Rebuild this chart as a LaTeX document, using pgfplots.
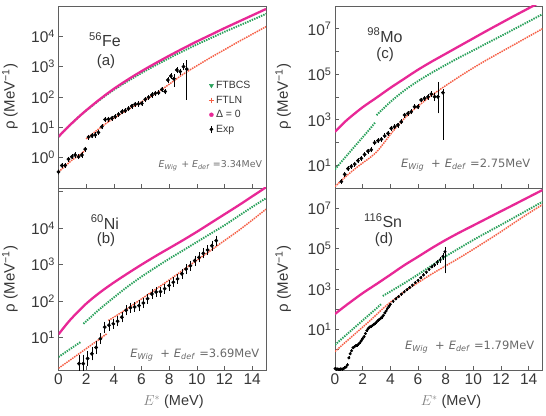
\documentclass[border=0pt]{standalone}
\usepackage{fontspec}
\setmainfont{Liberation Sans}
\newfontfamily\djv{DejaVu Sans}
\usepackage{pgfplots}
\pgfplotsset{compat=1.18}

\definecolor{dzero}{RGB}{232,40,150}
\definecolor{bcs}{RGB}{40,160,90}
\definecolor{fln}{RGB}{245,95,70}
\definecolor{axgray}{RGB}{95,95,95}
\definecolor{txt}{RGB}{55,55,55}
\definecolor{annogray}{RGB}{105,105,105}

\tikzset{
  nuclname/.style={font=\fontsize{16}{18}\selectfont, text=txt},
  paneltag/.style={font=\fontsize{15}{18}\selectfont, text=txt},
  annotext/.style={anchor=base west, text=annogray, inner sep=0pt},
}

\pgfplotsset{
  rhopanel/.style={scale only axis, width=207.5pt, height=182pt,
    xmin=0, xmax=15, xtick={0,2,...,14},
    tick align=inside, xtick pos=bottom, ytick pos=left,
    yminorticks=false,
    axis line style={axgray, line width=0.7pt},
    tick style={axgray, line width=0.6pt}, major tick length=4pt,
    tick label style={font=\fontsize{15.5}{18}\selectfont, text=txt},
    /pgf/number format/assume math mode=true},
  rholabel/.style={ylabel={ρ (MeV\textsuperscript{−1})},
    ylabel style={font=\fontsize{15}{18}\selectfont, text=txt,
      at={(axis description cs:#1,0.5)}, anchor=center}},
  energylabel/.style={xlabel={{\color{black!50}$E^{*}$} (MeV)},
    xlabel style={font=\fontsize{14.5}{17}\selectfont, text=txt,
      at={(axis description cs:#1,-0.176)}, anchor=center}},
  dzline/.style={dzero, line width=2.3pt, smooth, no markers},
  bcsline/.style={bcs, line width=1.9pt, dash pattern=on 1.4pt off 1.1pt, smooth, no markers},
  flnline/.style={fln, line width=1.5pt, dash pattern=on 1.5pt off 0.9pt, smooth, no markers},
  expmarks/.style={only marks, mark=*, mark size=1.7pt, black,
    error bars/y dir=both, error bars/y explicit relative,
    error bars/error bar style={black, line width=0.5pt},
    error bars/error mark options={black, mark size=1.5pt, line width=0.5pt}},
}

\begin{document}
\begin{tikzpicture}

% ---------------- (a) 56Fe ----------------
\begin{axis}[rhopanel, ymode=log, rholabel=-0.234, at={(58.5pt,227pt)}, anchor=south west,
  ymin=0.1, ymax=1e5, xticklabels={},
  ytick={0.1,1,10,100,1000,10000,100000},
  yticklabels={,10\textsuperscript{0},10\textsuperscript{1},10\textsuperscript{2},10\textsuperscript{3},10\textsuperscript{4},},
  legend style={draw=none, fill=none, at={(axis description cs:0.709,0.61)}, anchor=north west,
    font=\fontsize{10.5}{12.5}\selectfont, text=txt, row sep=1.8pt},
  legend cell align=left]
\addlegendimage{only marks, mark=triangle*, mark size=2.3pt, mark options={rotate=180, fill=bcs, draw=bcs}}
\addlegendentry{FTBCS}
\addlegendimage{only marks, mark=+, mark size=2.6pt, mark options={fln, line width=0.6pt}}
\addlegendentry{FTLN}
\addlegendimage{only marks, mark=*, mark size=2pt, mark options={fill=dzero, draw=dzero}}
\addlegendentry{Δ = 0}
\addlegendimage{legend image code/.code={
  \draw[black, line width=0.5pt] (0.3cm,-0.13cm) -- (0.3cm,0.13cm);
  \fill[black] (0.3cm,0cm) circle (1.7pt);}}
\addlegendentry{Exp}

\addplot[flnline, forget plot] table {
0    0.339
0.5  0.537
1    0.851
1.5  1.20
1.95 1.78
};
\addplot[flnline, forget plot] table {
2.0 4.17
2.5 6.31
3   9.55
3.5 14.1
4   20.0
5   38.0
6   69.2
7   126
8   263
9   562
10  1070
11  2000
12  3630
13  6610
14  11700
15  20900
};
\addplot[bcsline, forget plot] table {
0   4.9
0.5 8.5
1   14.1
1.5 22.9
2   35.5
3   81.3
4   172
5   331
6   617
7   1100
8   1910
9   3240
10  5370
11  8710
12  14100
13  22100
14  34700
15  55000
};
\addplot[dzline, forget plot] table {
0   4.9
0.5 8.5
1   14.1
1.5 22.9
2   36.3
3   85.1
4   186
5   372
6   708
7   1290
8   2290
9   3980
10  6760
11  11200
12  18600
13  30200
14  49000
15  79400
};
\addplot[expmarks, forget plot] table[y error plus=ep, y error minus=em] {
x    y     ep   em
0.00 0.339 0.10 0.10
0.24 0.550 0.08 0.08
0.48 0.550 0.08 0.08
0.72 0.891 0.08 0.08
0.96 1.07  0.08 0.08
1.20 1.23  0.08 0.08
1.45 1.07  0.08 0.08
1.69 1.23  0.08 0.08
1.93 1.91  0.08 0.08
2.17 4.79  0.08 0.08
2.41 5.25  0.08 0.08
2.65 5.62  0.08 0.08
2.89 6.76  0.08 0.08
3.13 10.5  0.08 0.08
3.37 18.2  0.08 0.08
3.61 18.6  0.08 0.08
3.86 20.0  0.08 0.08
4.10 22.4  0.08 0.08
4.34 26.9  0.08 0.08
4.58 32.4  0.08 0.08
4.82 35.5  0.08 0.08
5.06 41.7  0.08 0.08
5.30 50.1  0.08 0.08
5.54 57.5  0.08 0.08
5.78 58.9  0.08 0.08
6.02 61.7  0.08 0.08
6.27 83.2  0.08 0.08
6.51 97.7  0.08 0.08
6.75 117   0.08 0.08
6.99 132   0.08 0.08
7.23 138   0.08 0.08
7.47 178   0.08 0.08
7.71 151   0.10 0.10
7.90 363   0.12 0.12
8.12 490   0.12 0.12
8.34 398   0.26 0.40
8.56 776   0.12 0.12
8.80 692   0.12 0.12
9.04 1000  0.15 0.15
9.27 832   0.74 0.89
};
\node[nuclname] at (rel axis cs:0.224,0.813) {\textsuperscript{56}Fe};
\node[paneltag] at (rel axis cs:0.229,0.692) {(a)};
\node[annotext, font=\djv\fontsize{9.4}{11}\selectfont] at (rel axis cs:0.482,0.11)
  {\textit{E}\textsubscript{\textit{Wig}}\hspace{0.4em}+\hspace{0.3em}\textit{E}\textsubscript{\textit{def}} =3.34MeV};
\end{axis}

% ---------------- (b) 60Ni ----------------
\begin{axis}[rhopanel, ymode=log, rholabel=-0.234, energylabel=0.554, at={(58.5pt,45pt)}, anchor=south west,
  ymin=1.3, ymax=1.26e5,
  ytick={10,100,1000,10000,100000},
  yticklabels={10\textsuperscript{1},10\textsuperscript{2},10\textsuperscript{3},10\textsuperscript{4},}]
\addplot[flnline] table {
0   1.45
1   2.69
2   5.01
3   9.33
3.5 12.9
};
\addplot[flnline] table {
3.6 29.5
4   36.3
5   63.1
6   115
7   209
8   380
9   708
10  1320
11  2450
12  4570
13  8510
14  16600
15  33100
};
\addplot[bcsline] table {
0   2.95
0.5 3.98
1   5.37
1.6 7.59
};
\addplot[bcsline] table {
1.8 24.0
2.5 41.7
3   61.7
4   126
5   251
6   468
7   832
8   1450
9   2450
10  4170
11  7080
12  12000
13  21400
14  38000
15  66100
};
\addplot[dzline] table {
0   12.3
0.5 21.4
1   35.5
2   85.1
3   174
4   324
5   575
6   1000
7   1700
8   2820
9   4680
10  7940
11  13800
12  24000
13  41700
14  74100
15  132000
};
\addplot[expmarks] table[y error plus=ep, y error minus=em] {
x     y     ep   em
1.48  1.95  0.60 0.35
1.79  1.95  0.60 0.35
2.10  2.69  0.45 0.30
2.41  3.63  0.40 0.28
2.72  5.37  0.35 0.25
3.03  9.33  0.30 0.22
3.34  19.5  0.28 0.22
3.65  21.9  0.28 0.22
3.96  24.0  0.26 0.20
4.27  28.2  0.26 0.20
4.58  36.3  0.25 0.20
4.89  56.2  0.25 0.20
5.20  66.1  0.25 0.20
5.51  69.2  0.25 0.20
5.82  75.9  0.25 0.20
6.13  89.1  0.25 0.20
6.44  117   0.25 0.20
6.75  158   0.25 0.20
7.06  178   0.25 0.20
7.37  182   0.25 0.20
7.68  219   0.25 0.20
7.99  269   0.25 0.20
8.30  331   0.25 0.20
8.61  407   0.25 0.20
8.92  562   0.25 0.20
9.23  759   0.25 0.20
9.54  933   0.25 0.20
9.85  1290  0.25 0.20
10.16 1580  0.25 0.20
10.47 2040  0.25 0.20
10.78 2510  0.25 0.20
11.09 3310  0.25 0.20
11.40 4570  0.25 0.20
};
\node[nuclname] at (rel axis cs:0.224,0.813) {\textsuperscript{60}Ni};
\node[paneltag] at (rel axis cs:0.229,0.714) {(b)};
\node[annotext, font=\djv\fontsize{11.5}{13}\selectfont] at (rel axis cs:0.345,0.071)
  {\textit{E}\textsubscript{\textit{Wig}}\hspace{0.6em}+\hspace{0.35em}\textit{E}\textsubscript{\textit{def}} =3.69MeV};
\end{axis}

% ---------------- (c) 98Mo ----------------
\begin{axis}[rhopanel, ymode=log, rholabel=-0.25, at={(335pt,227pt)}, anchor=south west,
  ymin=1, ymax=1e8, xticklabels={},
  ytick={1,10,100,1000,10000,100000,1000000,10000000,100000000},
  yticklabels={,10\textsuperscript{1},,10\textsuperscript{3},,10\textsuperscript{5},,10\textsuperscript{7},}]
\addplot[flnline] table {
0   1.15
0.5 2.24
1   4.17
1.5 7.41
2   12.6
2.5 20.9
3   38.0
3.5 89.1
4   224
4.5 525
5   1120
5.5 2240
6   3980
7   12000
8   31600
9   79400
10  191000
11  437000
12  955000
13  2090000
14  4570000
15  10000000
};
\addplot[bcsline] table {
0   6.61
0.5 15.1
1   33.9
1.5 75.9
2   170
2.5 380
2.9 759
};
\addplot[bcsline] table {
3   1580
4   6030
5   19100
6   50100
7   117000
8   257000
9   550000
10  1120000
11  2340000
12  4790000
13  10000000
14  20900000
15  43700000
};
\addplot[dzline] table {
0   295
0.5 603
1   1150
2   3550
3   9330
4   25100
5   63100
6   158000
7   363000
8   794000
9   1740000
10  3800000
11  8320000
12  17800000
13  38000000
14  79400000
15  166000000
};
\addplot[expmarks] table[y error plus=ep, y error minus=em] {
x    y     ep   em
0.46 1.91  0.10 0.10
0.70 3.98  0.10 0.10
0.94 7.08  0.10 0.10
1.18 8.91  0.10 0.10
1.42 11.2  0.10 0.10
1.66 15.8  0.10 0.10
1.90 20.0  0.10 0.10
2.14 29.5  0.10 0.10
2.38 41.7  0.10 0.10
2.62 47.9  0.10 0.10
2.87 97.7  0.10 0.10
3.11 120   0.10 0.10
3.35 138   0.10 0.10
3.59 195   0.10 0.10
3.83 251   0.10 0.10
4.07 417   0.10 0.10
4.31 490   0.10 0.10
4.55 589   0.10 0.10
4.79 813   0.10 0.10
5.03 1620  0.10 0.10
5.27 1910  0.10 0.10
5.51 2240  0.10 0.10
5.75 3720  0.10 0.10
5.99 3720  0.10 0.10
6.23 7410  0.10 0.10
6.47 8710  0.10 0.10
6.72 10200 0.12 0.12
6.96 13500 0.15 0.15
7.20 10200 0.25 0.25
7.44 10200 2.89 0.78
7.80 15500 0.26 0.99
};
\node[nuclname] at (rel axis cs:0.241,0.84) {\textsuperscript{98}Mo};
\node[paneltag] at (rel axis cs:0.241,0.731) {(c)};
\node[annotext, font=\djv\fontsize{11.5}{13}\selectfont] at (rel axis cs:0.318,0.11)
  {\textit{E}\textsubscript{\textit{Wig}}\hspace{0.6em}+\hspace{0.35em}\textit{E}\textsubscript{\textit{def}} =2.75MeV};
\end{axis}

% ---------------- (d) 116Sn ----------------
\begin{axis}[rhopanel, ymode=log, rholabel=-0.25, energylabel=0.559, at={(335pt,45pt)}, anchor=south west,
  ymin=0.1, ymax=1e8,
  ytick={0.1,1,10,100,1000,10000,100000,1000000,10000000,100000000},
  yticklabels={,,10\textsuperscript{1},,10\textsuperscript{3},,10\textsuperscript{5},,10\textsuperscript{7},}]
\addplot[flnline] table {
0   0.813
0.5 1.66
1   3.31
1.5 6.61
2   13.2
2.5 26.3
3   55.0
3.5 115
4   224
4.5 398
5   741
5.5 1260
6   2090
7   5620
8   14100
9   35500
10  93300
11  251000
12  692000
13  2000000
14  5620000
15  15100000
};
\addplot[bcsline] table {
0    1.74
0.5  3.55
1    7.08
1.5  14.1
2    28.2
2.5  56.2
3    112
3.35 186
};
\addplot[bcsline] table {
3.45 457
4    759
5    1950
6    5250
7    14800
8    41700
9    107000
10   269000
11   646000
12   1510000
13   3630000
14   8710000
15   20900000
};
\addplot[dzline] table {
0   58.9
0.5 110
1   200
2   631
3   1780
4   5130
5   15100
6   39800
7   107000
8   269000
9   631000
10  1410000
11  3160000
12  7080000
13  15800000
14  35500000
15  79400000
};
\addplot[expmarks, mark size=1.3pt] table[y error plus=ep, y error minus=em] {
x    y      ep   em
0.0  0.117  0 0
0.1  0.112  0 0
0.2  0.112  0 0
0.3  0.107  0 0
0.4  0.112  0 0
0.5  0.112  0 0
0.6  0.117  0 0
0.7  0.126  0 0
0.8  0.141  0 0
0.9  0.178  0 0
1.0  0.398  0 0
1.1  0.631  0 0
1.2  0.891  0 0
1.3  1.26   0 0
1.4  1.41   0 0
1.5  1.58   0 0
1.6  1.66   0 0
1.7  1.91   0 0
1.8  2.24   0 0
1.9  2.82   0 0
2.0  3.55   0 0
2.1  4.47   0 0
2.2  6.31   0 0
2.3  8.91   0 0
2.4  11.2   0 0
2.5  13.2   0 0
2.6  14.1   0 0
2.7  15.8   0 0
2.8  17.8   0 0
2.9  20.0   0 0
3.0  23.4   0 0
3.1  28.2   0 0
3.2  31.6   0 0
3.3  35.5   0 0
3.4  41.7   0 0
3.5  50.1   0 0
3.6  66.1   0 0
3.7  83.2   0 0
3.8  112    0 0
3.9  141    0 0
4.0  178    0 0
4.2  251    0 0
4.4  331    0 0
4.6  427    0 0
4.8  562    0 0
5.0  724    0 0
5.2  933    0 0
5.4  1200   0 0
5.6  1580   0 0
5.8  2090   0 0
6.0  2690   0 0
6.2  3630   0 0
6.4  5010   0 0
6.6  6920   0 0
6.8  9550   0 0
7.0  12600  0 0
7.2  15800  0.1 0.1
7.4  21400  0.1 0.1
7.6  28200  0.15 0.15
7.8  41700  0.2 0.2
7.95 70800  0.48 0.90
};
\node[nuclname] at (rel axis cs:0.232,0.819) {\textsuperscript{116}Sn};
\node[paneltag] at (rel axis cs:0.236,0.714) {(d)};
\node[annotext, font=\djv\fontsize{11.5}{13}\selectfont] at (rel axis cs:0.337,0.115)
  {\textit{E}\textsubscript{\textit{Wig}}\hspace{0.6em}+\hspace{0.35em}\textit{E}\textsubscript{\textit{def}} =1.79MeV};
\end{axis}

\pgfresetboundingbox
\path[use as bounding box] (0,0) rectangle (546pt,415pt);
\end{tikzpicture}
\end{document}
